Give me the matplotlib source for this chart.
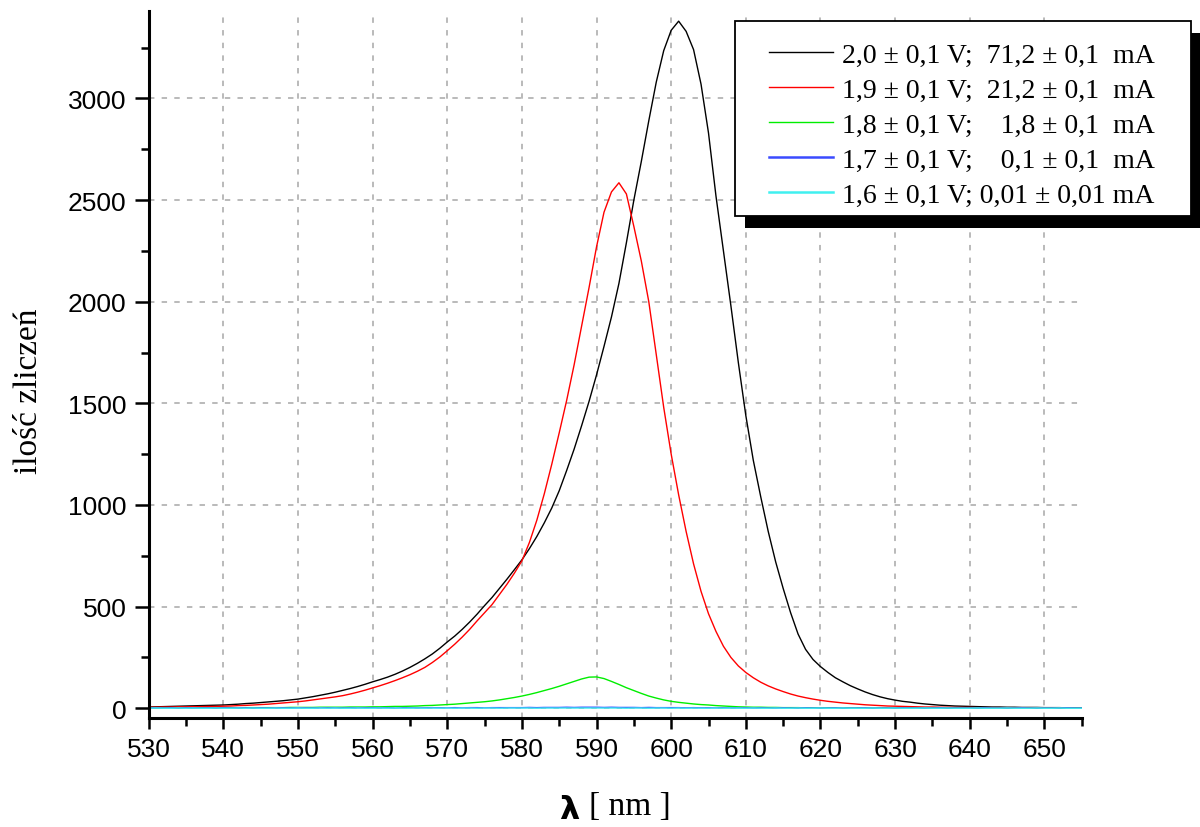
import matplotlib
matplotlib.use("Agg")
import matplotlib.pyplot as plt
from matplotlib.patches import Rectangle
from matplotlib.lines import Line2D
from matplotlib.ticker import MultipleLocator

plt.rcParams["font.family"] = ["Liberation Sans", "DejaVu Sans"]
SERIF = ["Liberation Serif", "DejaVu Serif"]

# ---------- dane (krok 1 nm) ----------
lam = list(range(530, 656))

cnt_20 = [6, 7, 8, 9, 10, 11, 12, 13, 14, 15,
          16, 18, 20, 23, 25, 28, 31, 34, 37, 41,
          45, 51, 57, 64, 71, 79, 88, 97, 107, 118,
          130, 141, 153, 167, 183, 201, 221, 243, 267, 295,
          326, 355, 388, 424, 463, 505, 545, 590, 635, 682,
          730, 785, 845, 912, 985, 1070, 1170, 1275, 1390, 1510,
          1640, 1780, 1925, 2090, 2290, 2500, 2690, 2890, 3080, 3235,
          3335, 3380, 3330, 3240, 3070, 2830, 2520, 2250, 1980, 1700,
          1440, 1220, 1040, 870, 720, 590, 470, 365, 290, 240,
          205, 176, 150, 130, 111, 95, 80, 67, 56, 47,
          40, 34, 30, 25, 21, 18, 15, 13, 11, 10,
          9, 8, 7, 6, 6, 5, 5, 4, 4, 4,
          3, 3, 3, 2, 2, 2]

cnt_19 = [5, 5, 6, 6, 7, 7, 8, 8, 9, 9,
          10, 11, 13, 14, 16, 18, 20, 23, 26, 29,
          32, 36, 41, 46, 51, 56, 62, 70, 79, 89,
          100, 111, 123, 136, 150, 165, 182, 201, 225, 252,
          283, 315, 350, 388, 430, 470, 510, 560, 610, 665,
          725, 815, 925, 1055, 1200, 1355, 1515, 1690, 1880, 2070,
          2270, 2440, 2540, 2585, 2530, 2370, 2200, 2000, 1740, 1480,
          1250, 1050, 870, 710, 575, 465, 378, 305, 250, 208,
          176, 150, 128, 110, 95, 82, 70, 60, 52, 45,
          39, 34, 30, 26, 23, 20, 17, 15, 13, 11,
          10, 9, 8, 7, 6, 6, 5, 5, 4, 4,
          4, 3, 3, 3, 3, 2, 2, 2, 2, 2,
          2, 1, 1, 1, 1, 1]

cnt_18 = [1, 1, 1, 1, 1, 2, 2, 2, 2, 2,
          2, 2, 2, 3, 3, 3, 3, 3, 3, 4,
          4, 4, 4, 5, 5, 5, 5, 6, 6, 6,
          7, 7, 8, 9, 9, 10, 11, 13, 14, 16,
          18, 20, 23, 26, 29, 32, 36, 41, 47, 53,
          60, 68, 77, 87, 97, 108, 120, 132, 144, 153,
          154, 146, 132, 117, 101, 87, 73, 60, 50, 41,
          34, 29, 25, 21, 18, 16, 13, 11, 9, 7,
          6, 5, 5, 4, 4, 3, 3, 3, 2, 2,
          2, 2, 2, 1, 1, 1, 1, 1, 1, 1,
          1, 1, 1, 1, 1, 1, 1, 0, 0, 0,
          0, 0, 0, 0, 0, 0, 0, 0, 0, 0,
          0, 0, 0, 0, 0, 0]

cnt_17 = [1, 2, 1, 2, 1, 2, 2, 1, 2, 1,
          2, 1, 2, 2, 1, 2, 1, 2, 2, 1,
          2, 2, 1, 2, 2, 2, 1, 2, 2, 2,
          2, 2, 2, 1, 2, 2, 2, 2, 3, 2,
          2, 3, 2, 3, 3, 2, 3, 3, 3, 3,
          3, 4, 3, 4, 4, 4, 5, 4, 5, 5,
          5, 4, 5, 4, 4, 4, 3, 4, 3, 3,
          3, 3, 2, 3, 2, 2, 2, 2, 2, 1,
          2, 1, 2, 1, 1, 2, 1, 1, 2, 1,
          1, 1, 2, 1, 1, 1, 2, 1, 1, 1,
          1, 2, 1, 1, 1, 1, 2, 1, 1, 1,
          1, 1, 2, 1, 1, 1, 1, 2, 1, 1,
          1, 1, 1, 2, 1, 1]

cnt_16 = [0, 1, 0, 0, 1, 0, 1, 0, 0, 1,
          0, 0, 1, 0, 1, 0, 0, 1, 0, 0,
          1, 0, 0, 1, 0, 1, 0, 0, 1, 0,
          0, 1, 0, 1, 0, 0, 1, 0, 1, 0,
          1, 0, 1, 1, 0, 1, 1, 0, 1, 1,
          1, 1, 0, 1, 1, 1, 1, 1, 1, 1,
          1, 1, 1, 1, 0, 1, 1, 0, 1, 1,
          0, 1, 0, 1, 0, 0, 1, 0, 1, 0,
          0, 1, 0, 0, 1, 0, 0, 1, 0, 0,
          1, 0, 0, 1, 0, 0, 0, 1, 0, 0,
          1, 0, 0, 0, 1, 0, 0, 1, 0, 0,
          0, 1, 0, 0, 0, 1, 0, 0, 0, 1,
          0, 0, 1, 0, 0, 0]

labels = ["2,0 ± 0,1 V;  71,2 ± 0,1  mA",
          "1,9 ± 0,1 V;  21,2 ± 0,1  mA",
          "1,8 ± 0,1 V;    1,8 ± 0,1  mA",
          "1,7 ± 0,1 V;    0,1 ± 0,1  mA",
          "1,6 ± 0,1 V; 0,01 ± 0,01 mA"]
colors = ["#000000", "#ff0000", "#00ee00", "#3a4bff", "#40f0f0"]
series = [cnt_20, cnt_19, cnt_18, cnt_17, cnt_16]

# ---------- wykres ----------
W, H = 1200, 828
fig = plt.figure(figsize=(W / 100, H / 100), dpi=100)
ax = fig.add_axes([148.7 / W, 1 - 719 / H, (1081.7 - 148.7) / W, (719 - 12) / H])

for y, c in zip(series, colors):
    ax.plot(lam, y, color=c, linewidth=1.0)

ax.set_xlim(530, 655)
ax.set_ylim(-48, 3430)
ax.xaxis.set_major_locator(MultipleLocator(10))
ax.xaxis.set_minor_locator(MultipleLocator(5))
ax.yaxis.set_major_locator(MultipleLocator(500))
ax.yaxis.set_minor_locator(MultipleLocator(250))

for s in ["top", "right"]:
    ax.spines[s].set_visible(False)
for s in ["left", "bottom"]:
    ax.spines[s].set_linewidth(2.2)

ax.tick_params(which="major", direction="out", length=8, width=1.8, labelsize=19, pad=6)
ax.tick_params(which="minor", direction="out", length=5.5, width=1.8)
ax.tick_params(axis="y", which="major", length=10)

ax.grid(True, which="major", color="#b4b4b4", linestyle=(0, (3, 4)), linewidth=1.3)
ax.set_axisbelow(True)

# oś x: pogrubiona lambda + jednostka
ax.text(0.462, -0.108, "λ", transform=ax.transAxes, ha="right", va="top",
        fontsize=23, fontweight="bold", family=["DejaVu Sans"])
ax.text(0.472, -0.103, "[ nm ]", transform=ax.transAxes, ha="left", va="top",
        fontsize=24, family=SERIF)
ax.set_ylabel("ilość zliczeń", family=SERIF, fontsize=24)
ax.yaxis.set_label_coords(-0.112, 0.464)

# ---------- legenda z czarnym cieniem ----------
def fp(x, y):
    return x / W, 1 - y / H

bx0, by0, bx1, by1 = 735, 22, 1191, 217
sx, sy = 10, 12
fig.patches.append(Rectangle(fp(bx0 + sx, by1 + sy), (bx1 - bx0) / W, (by1 - by0) / H,
                             transform=fig.transFigure, facecolor="black",
                             edgecolor="none", zorder=5))
fig.patches.append(Rectangle(fp(bx0, by1), (bx1 - bx0) / W, (by1 - by0) / H,
                             transform=fig.transFigure, facecolor="white",
                             edgecolor="black", linewidth=1.3, zorder=6))
rows = [53, 88, 123, 158, 193]
for r, lab, c in zip(rows, labels, colors):
    lw = 1.0 if c in ("#000000", "#ff0000", "#00ee00") else 1.8
    fig.lines.append(Line2D([769 / W, 833 / W], [1 - r / H, 1 - r / H],
                            transform=fig.transFigure, color=c, linewidth=lw, zorder=7))
    fig.text(842 / W, 1 - (r + 9.5) / H, lab, family=SERIF,
             fontsize=20, va="baseline", ha="left", zorder=7)

fig.savefig("out.png", dpi=100)
